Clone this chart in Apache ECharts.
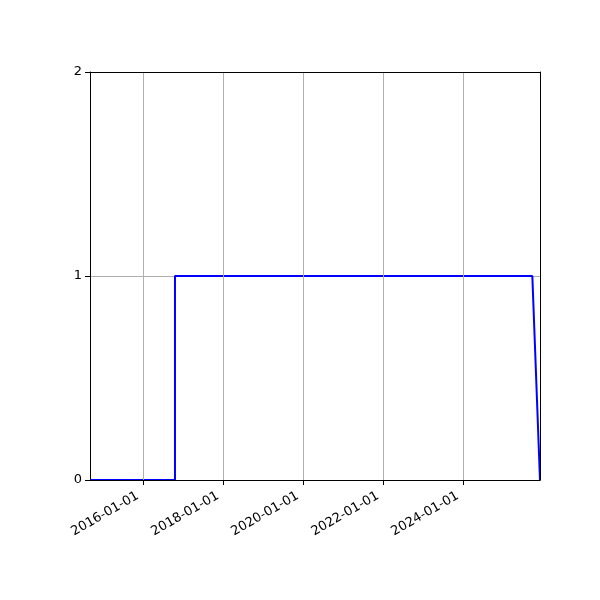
<!DOCTYPE html>
<html>
<head>
<meta charset="utf-8">
<script src="https://cdn.jsdelivr.net/npm/echarts@6/dist/echarts.min.js"></script>
<style>
  html, body { margin: 0; padding: 0; background: #fff; }
  #main { width: 600px; height: 600px; }
</style>
</head>
<body>
<div id="main"></div>
<script>
// data
var stepDates = ['2014-09-04', '2016-10-19', '2016-10-19', '2025-09-25', '2025-12-04'];
var stepValues = [0, 0, 1, 1, 0];
var tickDates = ['2016-01-01', '2018-01-01', '2020-01-01', '2022-01-01', '2024-01-01'];
var yTicks = [0, 1, 2];

var xMin = Date.parse(stepDates[0]);
var xMax = Date.parse(stepDates[stepDates.length - 1]);
var tickValues = tickDates.map(function (d) { return Date.parse(d); });

var lineData = stepDates.map(function (d, i) {
	return [Date.parse(d), stepValues[i]];
});

function fmtDate(v) {
	var d = new Date(v);
	var m = d.getUTCMonth() + 1, day = d.getUTCDate();
	return d.getUTCFullYear() + '-' + (m < 10 ? '0' + m : m) + '-' + (day < 10 ? '0' + day : day);
}

// frame lines for the top and right spines
function spine(extra) {
	return Object.assign({
		type: 'value',
		z: 5,
		axisLine: { show: true, onZero: false, lineStyle: { color: '#000', width: 1 } },
		axisTick: { show: false },
		axisLabel: { show: false },
		splitLine: { show: false }
	}, extra);
}

var chart = echarts.init(document.getElementById('main'));

var option = {
	backgroundColor: '#fff',
	animation: false,
	textStyle: { fontFamily: 'DejaVu Sans' },
	grid: {
		left: 90, right: 60, top: 72, bottom: 120,
		show: false
	},
	xAxis: [{
		type: 'value',
		min: xMin,
		max: xMax,
		z: 5,
		axisLine: { show: true, onZero: false, lineStyle: { color: '#000', width: 1 } },
		axisTick: {
			show: true, inside: false, length: 5,
			customValues: tickValues,
			lineStyle: { color: '#000', width: 1 }
		},
		axisLabel: {
			customValues: tickValues,
			rotate: 30,
			margin: 12,
			padding: [0, 6, 0, 0],
			color: '#000',
			fontSize: 13,
			fontFamily: 'DejaVu Sans',
			formatter: fmtDate
		},
		splitLine: { show: false }
	}, spine({ position: 'top', min: xMin, max: xMax })],
	yAxis: [{
		type: 'value',
		min: 0,
		max: 2,
		interval: 1,
		axisLine: { show: true, onZero: false, lineStyle: { color: '#000', width: 1 } },
		axisTick: { show: true, inside: false, length: 5, lineStyle: { color: '#000', width: 1 } },
		axisLabel: {
			color: '#000', fontSize: 13, margin: 8, fontFamily: 'DejaVu Sans',
			formatter: function (v) { return yTicks.indexOf(v) >= 0 ? String(v) : ''; }
		},
		splitLine: { show: true, lineStyle: { color: '#b0b0b0', width: 1 } }
	}, spine({ position: 'right', min: 0, max: 2, interval: 1 })],
	series: [{
		// vertical grid lines at the date ticks
		type: 'line',
		data: [],
		z: 1,
		markLine: {
			silent: true,
			symbol: ['none', 'none'],
			animation: false,
			label: { show: false },
			lineStyle: { color: '#b0b0b0', width: 1, type: 'solid' },
			data: tickValues.map(function (v) { return { xAxis: v }; })
		}
	}, {
		type: 'line',
		data: lineData,
		z: 3,
		showSymbol: false,
		symbol: 'none',
		lineStyle: { color: '#0000ff', width: 2 },
		itemStyle: { color: '#0000ff' }
	}]
};

chart.setOption(option);
</script>
</body>
</html>
